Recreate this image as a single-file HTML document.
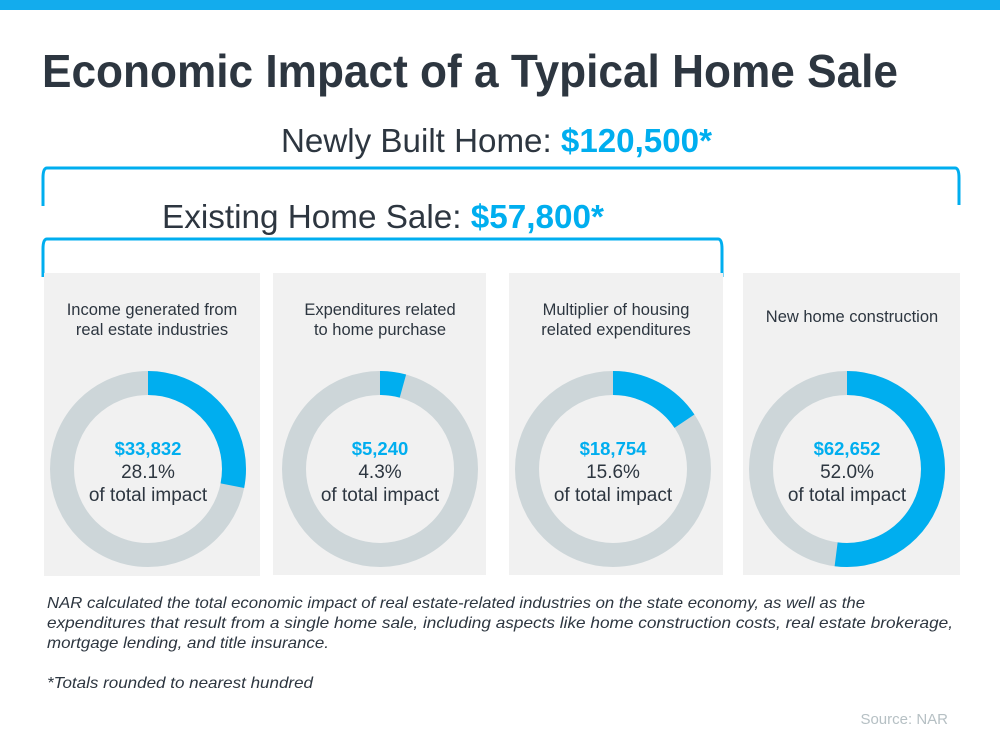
<!DOCTYPE html>
<html><head><meta charset="utf-8"><style>
html,body{margin:0;padding:0;background:#fff;}
svg{display:block;font-family:"Liberation Sans",Arial,sans-serif;}
</style></head><body>
<svg width="1000" height="750" viewBox="0 0 1000 750" xmlns="http://www.w3.org/2000/svg">
<rect x="0" y="0" width="1000" height="10" fill="#13aced"/>
<text x="42" y="87" font-size="46" font-weight="bold" fill="#2d3640" textLength="856" lengthAdjust="spacingAndGlyphs">Economic Impact of a Typical Home Sale</text>
<text x="281" y="152" font-size="33" fill="#2d3640" textLength="431" lengthAdjust="spacingAndGlyphs">Newly Built Home: <tspan fill="#00aeef" font-weight="bold">$120,500*</tspan></text>
<text x="162" y="228" font-size="33" fill="#2d3640" textLength="442" lengthAdjust="spacingAndGlyphs">Existing Home Sale: <tspan fill="#00aeef" font-weight="bold">$57,800*</tspan></text>
<g fill="none" stroke="#00aeef" stroke-width="3">
<path d="M43 206 L43 178 Q43 168 47 168 L955 168 Q959 168 959 178 L959 205"/>
<path d="M43 277 L43 249 Q43 239 47 239 L718 239 Q722 239 722 249 L722 277"/>
</g>
<rect x="44" y="273" width="216" height="303" fill="#f1f1f1"/>
<rect x="273" y="273" width="213" height="302" fill="#f1f1f1"/>
<rect x="509" y="273" width="214" height="302" fill="#f1f1f1"/>
<rect x="743" y="273" width="217" height="302" fill="#f1f1f1"/>
<g font-size="16.5" fill="#2d3640" text-anchor="middle">
<text x="152" y="315">Income generated from</text>
<text x="152" y="335">real estate industries</text>
<text x="380" y="315">Expenditures related</text>
<text x="380" y="335">to home purchase</text>
<text x="616" y="315">Multiplier of housing</text>
<text x="616" y="335">related expenditures</text>
<text x="852" y="322">New home construction</text>
</g>
<g fill="none" stroke-width="24">
<circle cx="148" cy="469" r="86" stroke="#cdd6d9"/>
<circle cx="148" cy="469" r="86" stroke="#00aeef" stroke-dasharray="151.8 1000" transform="rotate(-90 148 469)"/>
<circle cx="380" cy="469" r="86" stroke="#cdd6d9"/>
<circle cx="380" cy="469" r="86" stroke="#00aeef" stroke-dasharray="23.2 1000" transform="rotate(-90 380 469)"/>
<circle cx="613" cy="469" r="86" stroke="#cdd6d9"/>
<circle cx="613" cy="469" r="86" stroke="#00aeef" stroke-dasharray="84.3 1000" transform="rotate(-90 613 469)"/>
<circle cx="847" cy="469" r="86" stroke="#cdd6d9"/>
<circle cx="847" cy="469" r="86" stroke="#00aeef" stroke-dasharray="281 1000" transform="rotate(-90 847 469)"/>
</g>
<g text-anchor="middle" fill="#2d3640" font-size="19">
<text x="148" y="455" font-size="18.5" font-weight="bold" fill="#00aeef">$33,832</text>
<text x="148" y="478">28.1%</text>
<text x="148" y="501">of total impact</text>
<text x="380" y="455" font-size="18.5" font-weight="bold" fill="#00aeef">$5,240</text>
<text x="380" y="478">4.3%</text>
<text x="380" y="501">of total impact</text>
<text x="613" y="455" font-size="18.5" font-weight="bold" fill="#00aeef">$18,754</text>
<text x="613" y="478">15.6%</text>
<text x="613" y="501">of total impact</text>
<text x="847" y="455" font-size="18.5" font-weight="bold" fill="#00aeef">$62,652</text>
<text x="847" y="478">52.0%</text>
<text x="847" y="501">of total impact</text>
</g>
<g font-size="16" font-style="italic" fill="#2d3640">
<text x="47" y="608" textLength="818" lengthAdjust="spacingAndGlyphs">NAR calculated the total economic impact of real estate-related industries on the state economy, as well as the</text>
<text x="47" y="628" textLength="906" lengthAdjust="spacingAndGlyphs">expenditures that result from a single home sale, including aspects like home construction costs, real estate brokerage,</text>
<text x="47" y="648" textLength="282" lengthAdjust="spacingAndGlyphs">mortgage lending, and title insurance.</text>
<text x="47" y="688" textLength="266" lengthAdjust="spacingAndGlyphs">*Totals rounded to nearest hundred</text>
</g>
<text x="948" y="724" font-size="15" fill="#b6c0c4" text-anchor="end">Source: NAR</text>
</svg>
</body></html>
